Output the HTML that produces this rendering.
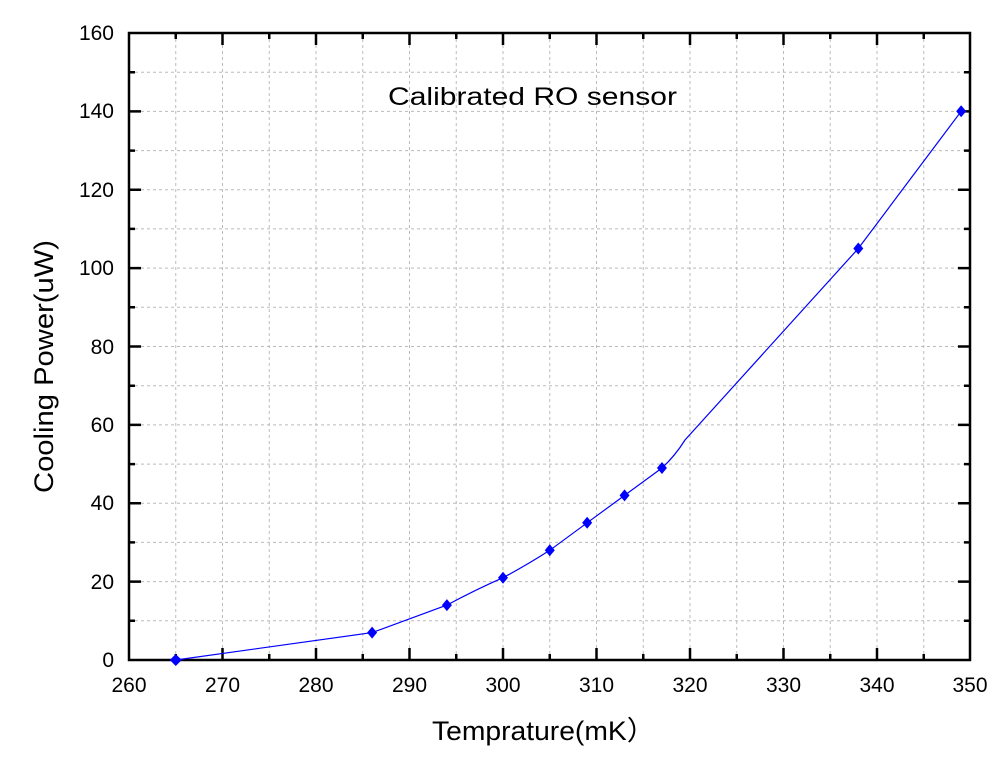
<!DOCTYPE html><html><head><style>body{margin:0;background:#fff}svg{display:block}text{font-family:"Liberation Sans",Arial,sans-serif}</style></head><body>
<svg width="1004" height="764" viewBox="0 0 1004 764">
<g stroke="#bbb" stroke-width="1" stroke-dasharray="3,3">
<path d="M175.75 33V660M222.5 33V660M269.25 33V660M316 33V660M362.75 33V660M409.5 33V660M456.25 33V660M503 33V660M549.75 33V660M596.5 33V660M643.25 33V660M690 33V660M736.75 33V660M783.5 33V660M830.25 33V660M877 33V660M923.75 33V660"/>
<path d="M129 620.8H970M129 581.6H970M129 542.4H970M129 503.2H970M129 464.1H970M129 424.9H970M129 385.7H970M129 346.5H970M129 307.3H970M129 268.1H970M129 228.9H970M129 189.7H970M129 150.6H970M129 111.4H970M129 72.2H970"/>
</g>
<g stroke="#000" stroke-width="2.5">
<path d="M175.75 660v-6M222.5 660v-12M269.25 660v-6M316 660v-12M362.75 660v-6M409.5 660v-12M456.25 660v-6M503 660v-12M549.75 660v-6M596.5 660v-12M643.25 660v-6M690 660v-12M736.75 660v-6M783.5 660v-12M830.25 660v-6M877 660v-12M923.75 660v-6"/>
<path d="M175.75 33v6M222.5 33v12M269.25 33v6M316 33v12M362.75 33v6M409.5 33v12M456.25 33v6M503 33v12M549.75 33v6M596.5 33v12M643.25 33v6M690 33v12M736.75 33v6M783.5 33v12M830.25 33v6M877 33v12M923.75 33v6"/>
<path d="M129 620.8h6M129 581.6h12M129 542.4h6M129 503.2h12M129 464.1h6M129 424.9h12M129 385.7h6M129 346.5h12M129 307.3h6M129 268.1h12M129 228.9h6M129 189.7h12M129 150.6h6M129 111.4h12M129 72.2h6"/>
<path d="M970 620.8h-6M970 581.6h-12M970 542.4h-6M970 503.2h-12M970 464.1h-6M970 424.9h-12M970 385.7h-6M970 346.5h-12M970 307.3h-6M970 268.1h-12M970 228.9h-6M970 189.7h-12M970 150.6h-6M970 111.4h-12M970 72.2h-6"/>
<rect x="129" y="33" width="841" height="627" fill="none"/>
</g>
<path d="M175.75 660 L372.1 632.6 L446.9 605.1 Q475 590 503 577.7 Q527 565 549.75 550.3 L587.15 522.8 L624.55 495.4 L661.95 468 Q675 456 685 440 L858.3 248.5 L961.15 111.3" fill="none" stroke="#00f" stroke-width="1.2"/>
<g fill="#00f">
<path d="M175.75 654l6 6-6 6-6-6zM372.1 626.6l5 6-5 6-5-6zM446.9 599.1l5 6-5 6-5-6zM503 571.7l5 6-5 6-5-6zM549.75 544.3l5 6-5 6-5-6zM587.15 516.8l5 6-5 6-5-6zM624.55 489.4l5 6-5 6-5-6zM661.95 462l5 6-5 6-5-6zM858.3 242.5l5 6-5 6-5-6zM961.15 105.3l5 6-5 6-5-6z"/>
</g>
<g font-size="21" text-anchor="end">
<text x="114" y="667">0</text><text x="114" y="589">20</text><text x="114" y="510">40</text><text x="114" y="432">60</text><text x="114" y="354">80</text><text x="114" y="275">100</text><text x="114" y="197">120</text><text x="114" y="118">140</text><text x="114" y="40">160</text>
</g>
<g font-size="21" text-anchor="middle">
<text x="129" y="692">260</text><text x="222.5" y="692">270</text><text x="316" y="692">280</text><text x="409.5" y="692">290</text><text x="503" y="692">300</text><text x="596.5" y="692">310</text><text x="690" y="692">320</text><text x="783.5" y="692">330</text><text x="877" y="692">340</text><text x="970" y="692">350</text>
</g>
<text x="432" y="740" font-size="27" textLength="223" lengthAdjust="spacingAndGlyphs">Temprature(mK）</text>
<text transform="translate(53 493) rotate(-90)" font-size="27" textLength="253" lengthAdjust="spacingAndGlyphs">Cooling Power(uW)</text>
<text x="388" y="105" font-size="25" textLength="289" lengthAdjust="spacingAndGlyphs">Calibrated RO sensor</text>
</svg></body></html>
